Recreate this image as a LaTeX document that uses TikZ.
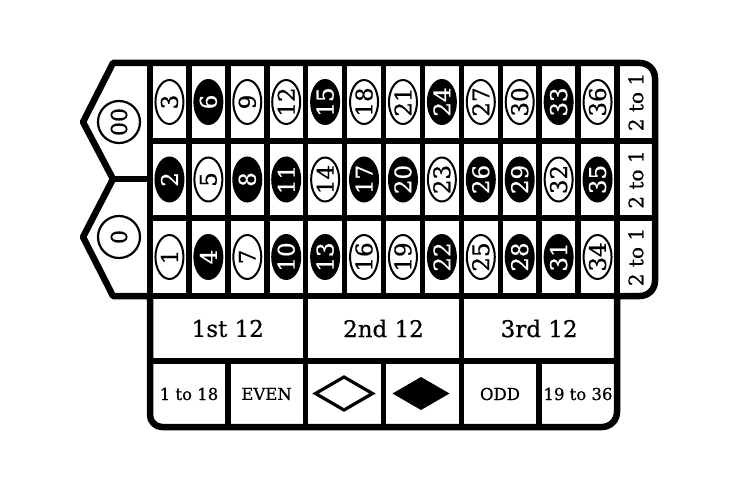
\documentclass[tikz,border=0pt]{standalone}
\usepackage{fontspec}
\setmainfont{DejaVu Serif}[FakeBold=0.6]
\usetikzlibrary{shapes.geometric}
\foreach \n in {2,4,6,8,10,11,13,15,17,20,22,24,26,28,29,31,33,35}{\expandafter\gdef\csname blk\n\endcsname{}}
\begin{document}
\begin{tikzpicture}[x=1pt,y=1pt,
  outline/.style={line width=6.5pt, line join=round},
  gridline/.style={line width=5.5pt},
  numbase/.style={ellipse, line width=2pt, minimum width=44pt, minimum height=28pt, inner sep=0pt, rotate=90, font=\fontsize{23}{23}\selectfont},
  rednum/.style={numbase, draw=black, fill=white, text=black},
  blacknum/.style={numbase, draw=black, fill=black, text=white},
  zeronum/.style={circle, draw, line width=2.2pt, minimum size=42pt, inner sep=0pt, rotate=90, font=\fontsize{22}{22}\selectfont},
  columnlbl/.style={rotate=90, font=\fontsize{20}{20}\selectfont},
  dozenlbl/.style={font=\fontsize{23}{23}\selectfont},
  outsidelbl/.style={font=\fontsize{16.5}{16.5}\selectfont}
]
\useasboundingbox (0,0) rectangle (737,491);
\fill[white] (0,0) rectangle (737,491);
% grid lines
\foreach \i in {0,...,12}{
  \draw[gridline] ({150+38.917*\i},195) -- ({150+38.917*\i},428);
}
\draw[gridline] (113,312) -- (150,312);
\draw[gridline] (150,350) -- (655,350);
\draw[gridline] (150,273) -- (655,273);
\draw[gridline] (150,195) -- (617,195);
\draw[gridline] (150,130) -- (617,130);
\foreach \i in {4,8}{
  \draw[gridline] ({150+38.917*\i},195) -- ({150+38.917*\i},64);
}
\foreach \i in {2,6,10}{
  \draw[gridline] ({150+38.917*\i},130) -- ({150+38.917*\i},64);
}
% outline
\draw[outline] (113,312) -- (83,369) -- (113,428) -- (640,428)
  arc[start angle=90, end angle=0, radius=15] -- (655,210)
  arc[start angle=0, end angle=-90, radius=15] -- (617,195) -- (617,79)
  arc[start angle=0, end angle=-90, radius=15] -- (162,64)
  arc[start angle=270, end angle=180, radius=12] -- (150,195) -- (113,195) -- (83,254) -- cycle;
% numbers
\foreach \c in {0,...,11}{
  \foreach \r in {0,1,2}{
    \pgfmathtruncatemacro\n{3*\c+3-\r}
    \pgfmathsetmacro\xx{150+38.917*(\c+0.5)}
    \pgfmathsetmacro\yy{389-77.5*\r}
    \ifcsname blk\n\endcsname
      \node[blacknum] (n\n) at (\xx,\yy) {\n};
    \else
      \node[rednum] (n\n) at (\xx,\yy) {\n};
    \fi
  }
}
% zeros
\node[zeronum] (z00) at (119,369) {00};
\node[zeronum] (z0) at (119,254) {0};
% columns
\node[columnlbl] (col3) at (636,389) {2 to 1};
\node[columnlbl] (col2) at (636,311.5) {2 to 1};
\node[columnlbl] (col1) at (636,234) {2 to 1};
% dozens
\node[dozenlbl] (d1) at (227.8,162.5) {1st 12};
\node[dozenlbl] (d2) at (383.5,162.5) {2nd 12};
\node[dozenlbl] (d3) at (539.2,162.5) {3rd 12};
% outside bets
\node[outsidelbl] (low) at (189,97) {1 to 18};
\node[outsidelbl] (even) at (266.6,97) {EVEN};
\node[outsidelbl] (odd) at (500,97) {ODD};
\node[outsidelbl] (high) at (578,97) {19 to 36};
\draw[line width=3.2pt, line join=miter] (315.5,97.5) -- (344,114) -- (372.5,97.5) -- (344,81) -- cycle;
\fill (392.5,97.5) -- (421,114) -- (449.5,97.5) -- (421,81) -- cycle;
\end{tikzpicture}
\end{document}
